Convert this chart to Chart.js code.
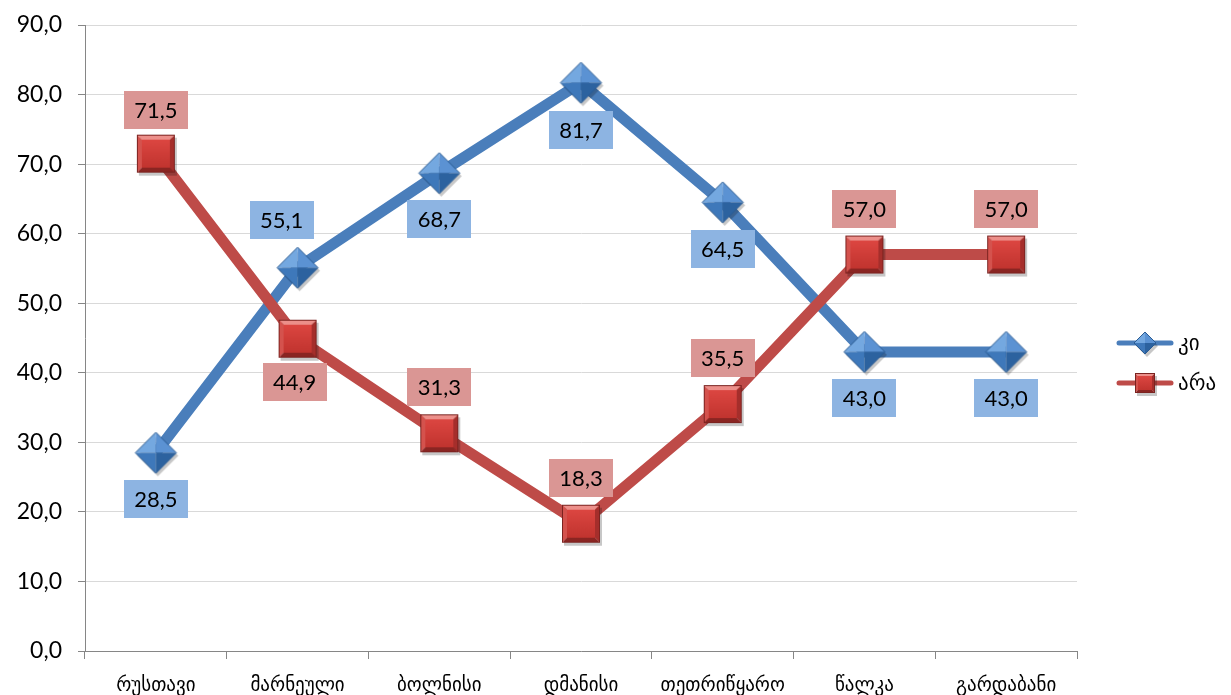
<!DOCTYPE html>
<html>
<head>
<meta charset="utf-8">
<script src="https://cdn.jsdelivr.net/npm/chart.js@4/dist/chart.umd.min.js"></script>
<style>
  html, body { margin: 0; padding: 0; background: #fff; }
</style>
</head>
<body>
<canvas id="chart" width="1231" height="695"></canvas>
<script>
const categories = ['რუსთავი', 'მარნეული', 'ბოლნისი', 'დმანისი', 'თეთრიწყარო', 'წალკა', 'გარდაბანი'];
const seriesNames = ['კი', 'არა'];
const yesValues = [28.5, 55.1, 68.7, 81.7, 64.5, 43.0, 43.0];
const noValues = [71.5, 44.9, 31.3, 18.3, 35.5, 57.0, 57.0];
const yTicks = [0, 10, 20, 30, 40, 50, 60, 70, 80, 90];

const FONT = "Lato, 'DejaVu Sans', sans-serif";
const fmt = function(v) { return v.toFixed(1).replace('.', ','); };

// bevelled square marker, like the office one
function squareMarker(s) {
  const pad = 5;
  const c = document.createElement('canvas');
  c.width = c.height = s + pad * 2;
  const g = c.getContext('2d');
  const x0 = pad, y0 = pad, b = Math.round(s * 0.13);
  g.fillStyle = 'rgba(0,0,0,0.22)';
  g.fillRect(x0 + 2, y0 + 3, s, s);
  const poly = function(pts, col) {
    g.beginPath();
    g.moveTo(pts[0][0], pts[0][1]);
    for (let i = 1; i < pts.length; i++) g.lineTo(pts[i][0], pts[i][1]);
    g.closePath();
    g.fillStyle = col;
    g.fill();
  };
  poly([[x0, y0], [x0 + s, y0], [x0 + s - b, y0 + b], [x0 + b, y0 + b]], '#EC8F8A');
  poly([[x0, y0], [x0 + b, y0 + b], [x0 + b, y0 + s - b], [x0, y0 + s]], '#D4524D');
  poly([[x0 + s, y0], [x0 + s, y0 + s], [x0 + s - b, y0 + s - b], [x0 + s - b, y0 + b]], '#A52E2B');
  poly([[x0, y0 + s], [x0 + s, y0 + s], [x0 + s - b, y0 + s - b], [x0 + b, y0 + s - b]], '#8A2522');
  const grad = g.createLinearGradient(0, y0 + b, 0, y0 + s - b);
  grad.addColorStop(0, '#DC4641');
  grad.addColorStop(1, '#C1342F');
  g.fillStyle = grad;
  g.fillRect(x0 + b, y0 + b, s - 2 * b, s - 2 * b);
  g.strokeStyle = '#7B2320';
  g.lineWidth = 1;
  g.strokeRect(x0 + 0.5, y0 + 0.5, s - 1, s - 1);
  return c;
}

// pyramid-like diamond marker
function diamondMarker(s) {
  const pad = 5;
  const c = document.createElement('canvas');
  c.width = c.height = s + pad * 2;
  const g = c.getContext('2d');
  const cx = pad + s / 2, cy = pad + s / 2, r = s / 2;
  const tri = function(a, b, col) {
    g.beginPath();
    g.moveTo(a[0], a[1]);
    g.lineTo(b[0], b[1]);
    g.lineTo(cx, cy);
    g.closePath();
    g.fillStyle = col;
    g.fill();
  };
  const L = [cx - r, cy], T = [cx, cy - r], R = [cx + r, cy], B = [cx, cy + r];
  g.beginPath();
  g.moveTo(L[0] + 2, L[1] + 3); g.lineTo(T[0] + 2, T[1] + 3); g.lineTo(R[0] + 2, R[1] + 3); g.lineTo(B[0] + 2, B[1] + 3);
  g.closePath();
  g.fillStyle = 'rgba(0,0,0,0.22)';
  g.fill();
  tri(L, T, '#74A8E0');
  tri(T, R, '#5B92D3');
  tri(L, B, '#3E78BA');
  tri(B, R, '#2C629F');
  g.beginPath();
  g.moveTo(L[0], L[1]); g.lineTo(T[0], T[1]); g.lineTo(R[0], R[1]); g.lineTo(B[0], B[1]);
  g.closePath();
  g.strokeStyle = '#2A5B92';
  g.lineWidth = 1;
  g.stroke();
  return c;
}

const blueMarker = diamondMarker(41);
const redMarker = squareMarker(38);
const blueLegendMarker = diamondMarker(22);
const redLegendMarker = squareMarker(20);

// where each value label sits relative to its point
const labelPlacement = [
  { bg: '#8DB4E2', dy: [46, -48, 46, 47, 47, 46, 46], dx: [0, -16, 0, 0, 0, 0, 0] },
  { bg: '#DA9694', dy: [-44, 43, -46, -46, -46, -46, -46], dx: [0, -3, 0, 0, 0, 0, 0] }
];

const valueLabels = {
  id: 'valueLabels',
  afterDatasetsDraw(chart) {
    const ctx = chart.ctx;
    ctx.save();
    ctx.font = '22px ' + FONT;
    ctx.textAlign = 'center';
    ctx.textBaseline = 'middle';
    chart.data.datasets.forEach(function(ds, di) {
      const meta = chart.getDatasetMeta(di);
      const pl = labelPlacement[di];
      meta.data.forEach(function(pt, i) {
        const x = pt.x + pl.dx[i], y = pt.y + pl.dy[i];
        ctx.fillStyle = pl.bg;
        ctx.fillRect(Math.round(x - 32), Math.round(y - 19), 64, 38);
        ctx.fillStyle = '#000';
        ctx.fillText(fmt(ds.data[i]), x, y + 1);
      });
    });
    ctx.restore();
  }
};

const sideLegend = {
  id: 'sideLegend',
  afterDraw(chart) {
    const ctx = chart.ctx;
    const items = [
      { name: seriesNames[0], color: '#4A7EBB', marker: blueLegendMarker, y: 343 },
      { name: seriesNames[1], color: '#BE4B48', marker: redLegendMarker, y: 383 }
    ];
    ctx.save();
    items.forEach(function(it) {
      ctx.strokeStyle = it.color;
      ctx.lineWidth = 5;
      ctx.lineCap = 'round';
      ctx.beginPath();
      ctx.moveTo(1119, it.y);
      ctx.lineTo(1171, it.y);
      ctx.stroke();
      ctx.drawImage(it.marker, 1145 - it.marker.width / 2, it.y - it.marker.height / 2);
      ctx.fillStyle = '#000';
      ctx.font = '21px ' + FONT;
      ctx.textAlign = 'left';
      ctx.textBaseline = 'middle';
      ctx.fillText(it.name, 1178, it.y);
    });
    ctx.restore();
  }
};

new Chart(document.getElementById('chart'), {
  type: 'line',
  data: {
    labels: categories,
    datasets: [{
      label: seriesNames[0],
      data: yesValues,
      borderColor: '#4A7EBB',
      borderWidth: 11,
      pointStyle: blueMarker,
      pointRadius: 20,
      order: 1
    }, {
      label: seriesNames[1],
      data: noValues,
      borderColor: '#BE4B48',
      borderWidth: 11,
      pointStyle: redMarker,
      pointRadius: 20,
      order: 0
    }]
  },
  options: {
    responsive: false,
    devicePixelRatio: 1,
    animation: false,
    layout: { autoPadding: false, padding: { top: 25, right: 154, left: 0, bottom: 0 } },
    plugins: {
      legend: { display: false },
      tooltip: { enabled: false }
    },
    scales: {
      x: {
        offset: true,
        grid: { drawOnChartArea: false, offset: true, tickLength: 8, tickColor: '#868686' },
        border: { color: '#868686', width: 1 },
        ticks: { color: '#000', font: { family: FONT, size: 19 }, padding: 14, maxRotation: 0 },
        afterFit: function(s) { s.height = 44; }
      },
      y: {
        min: 0,
        max: 90,
        afterBuildTicks: function(s) { s.ticks = yTicks.map(function(v) { return { value: v }; }); },
        grid: { color: '#D9D9D9', tickColor: '#868686', tickLength: 7 },
        border: { color: '#868686', width: 1 },
        ticks: {
          color: '#000',
          font: { family: FONT, size: 23 },
          padding: 16,
          callback: function(v) { return fmt(v); }
        },
        afterFit: function(s) {
          s.width = 85;
          s.paddingTop = 12;
          s.paddingBottom = 12;
        }
      }
    }
  },
  plugins: [valueLabels, sideLegend]
});
</script>
</body>
</html>
